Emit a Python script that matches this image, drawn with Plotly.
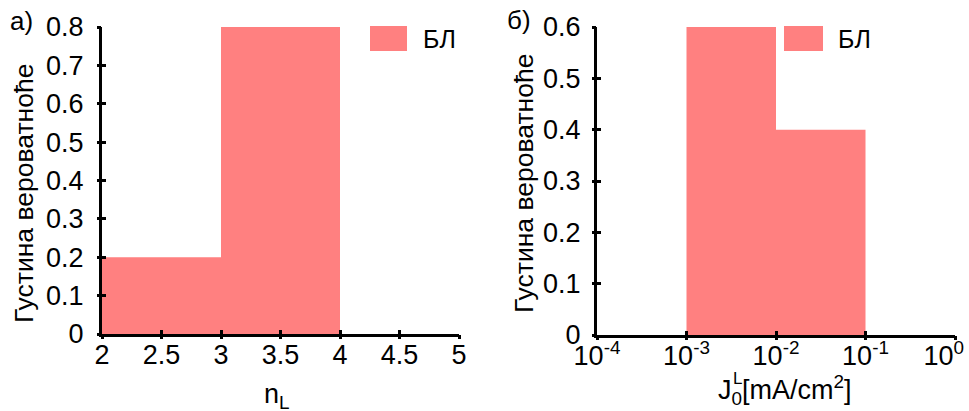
import plotly.graph_objects as go

# Data
n_edges = [2, 3, 4]
n_density = [0.2, 0.8]
j_edges = [1e-3, 1e-2, 1e-1]
j_density = [0.6, 0.4]
legend_label = "БЛ"
y_title = "Густина вероватноће"
left_ticks = [2, 2.5, 3, 3.5, 4, 4.5, 5]
left_yticks = [0, 0.1, 0.2, 0.3, 0.4, 0.5, 0.6, 0.7, 0.8]
right_yticks = [0, 0.1, 0.2, 0.3, 0.4, 0.5, 0.6]
right_tickvals = [1e-4, 1e-3, 1e-2, 1e-1, 1e0]
right_ticktext = ["10<sup>-4</sup>", "10<sup>-3</sup>", "10<sup>-2</sup>", "10<sup>-1</sup>",
                  "10<sup>0</sup>&nbsp;&nbsp;&nbsp;"]

COLOR = "#FF8080"
FONT = "Liberation Sans, Arial, sans-serif"
W, H = 969, 411


def hist_polygon(edges, dens):
    xs, ys = [], []
    for i, d in enumerate(dens):
        xs += [edges[i], edges[i], edges[i + 1], edges[i + 1], edges[i], None]
        ys += [0, d, d, 0, 0, None]
    return xs, ys


fig = go.Figure()
xs, ys = hist_polygon(n_edges, n_density)
fig.add_trace(go.Scatter(x=xs, y=ys, fill="toself", fillcolor=COLOR, mode="lines",
                         line=dict(width=0, color=COLOR), name=legend_label,
                         showlegend=False, hoverinfo="skip", xaxis="x", yaxis="y"))
xs, ys = hist_polygon(j_edges, j_density)
fig.add_trace(go.Scatter(x=xs, y=ys, fill="toself", fillcolor=COLOR, mode="lines",
                         line=dict(width=0, color=COLOR), name=legend_label,
                         showlegend=False, hoverinfo="skip", xaxis="x2", yaxis="y2"))
# invisible carriers so the outward-tick overlay axes are drawn
fig.add_trace(go.Scatter(x=[None], y=[None], xaxis="x3", yaxis="y3", showlegend=False,
                         hoverinfo="skip"))
fig.add_trace(go.Scatter(x=[None], y=[None], xaxis="x4", yaxis="y4", showlegend=False,
                         hoverinfo="skip"))

TICK = 27
TITLE = 26.5
common = dict(showgrid=False, zeroline=False, automargin=False, fixedrange=True)
main = dict(showline=True, linecolor="black", linewidth=3, ticks="inside",
            ticklen=4, tickwidth=3, tickcolor="black", ticklabeloverflow="allow",
            tickfont=dict(size=TICK, color="black", family=FONT), **common)
outer = dict(showline=False, ticks="outside", ticklen=4, tickwidth=3,
             tickcolor="black", showticklabels=False, **common)

LX = [102 / W, 459 / W]
RX = [597 / W, 955 / W]
LY = [1 - 334 / H, 1 - 27 / H]
RY = [1 - 335 / H, 1 - 27 / H]

fig.update_layout(
    width=W, height=H, margin=dict(l=0, r=0, t=0, b=0, autoexpand=False),
    plot_bgcolor="rgba(0,0,0,0)", paper_bgcolor="white",
    font=dict(family=FONT, color="black"),
    showlegend=False,
    xaxis=dict(domain=LX, range=[2, 5], tickvals=left_ticks, anchor="y",
               ticklabelstandoff=-5, **main),
    yaxis=dict(domain=LY, range=[0, 0.8], tickvals=left_yticks, tickformat="~g",
               anchor="x", ticklabelstandoff=10, **main),
    xaxis2=dict(domain=RX, type="log", range=[-4, 0], tickvals=right_tickvals,
                ticktext=right_ticktext, anchor="y2", ticklabelstandoff=-5, **main),
    yaxis2=dict(domain=RY, range=[0, 0.6], tickvals=right_yticks, tickformat="~g",
                anchor="x2", ticklabelstandoff=8, **main),
    # outward halves of the crossing tick marks
    xaxis3=dict(overlaying="x", anchor="y3", side="bottom", range=[2, 5],
                tickvals=left_ticks, **outer),
    yaxis3=dict(overlaying="y", anchor="x3", side="left", range=[0, 0.8],
                tickvals=left_yticks, **outer),
    xaxis4=dict(overlaying="x2", anchor="y4", side="bottom", type="log", range=[-4, 0],
                tickvals=right_tickvals, **outer),
    yaxis4=dict(overlaying="y2", anchor="x4", side="left", range=[0, 0.6],
                tickvals=right_yticks, **outer),
)

# Axis titles
fig.add_annotation(xref="paper", yref="paper", x=24 / W, y=1 - 194 / H,
                   xanchor="center", yanchor="middle", showarrow=False, textangle=-90,
                   text=y_title, font=dict(size=TITLE, color="black"))
fig.add_annotation(xref="paper", yref="paper", x=524 / W, y=1 - 184 / H,
                   xanchor="center", yanchor="middle", showarrow=False, textangle=-90,
                   text=y_title, font=dict(size=TITLE, color="black"))
fig.add_annotation(xref="paper", yref="paper", x=262 / W, y=1 - 396 / H,
                   xanchor="left", yanchor="middle", showarrow=False,
                   text="n<sub>L</sub>", font=dict(size=TICK, color="black"))
fig.add_annotation(xref="paper", yref="paper", x=716 / W, y=1 - 390 / H,
                   xanchor="left", yanchor="middle", showarrow=False,
                   text="J<sub>0</sub>[mA/cm<sup>2</sup>]",
                   font=dict(size=TICK, color="black"))
fig.add_annotation(xref="paper", yref="paper", x=737 / W, y=1 - 378 / H,
                   xanchor="center", yanchor="middle", showarrow=False,
                   text="L", font=dict(size=17, color="black"))

# Legend-like boxes
for (x0, x1, tx) in [(370, 407, 421), (784, 823, 836)]:
    fig.add_shape(type="rect", xref="paper", yref="paper",
                  x0=x0 / W, x1=x1 / W, y0=1 - 51 / H, y1=1 - 26 / H,
                  fillcolor=COLOR, line=dict(width=0))
    fig.add_annotation(xref="paper", yref="paper", x=tx / W, y=1 - 39 / H,
                       xanchor="left", yanchor="middle", showarrow=False,
                       text=legend_label, font=dict(size=25, color="black"))

# Panel labels
fig.add_annotation(xref="paper", yref="paper", x=8 / W, y=1 - 21 / H,
                   xanchor="left", yanchor="middle", showarrow=False,
                   text="а)", font=dict(size=26, color="black"))
fig.add_annotation(xref="paper", yref="paper", x=505 / W, y=1 - 20 / H,
                   xanchor="left", yanchor="middle", showarrow=False,
                   text="б)", font=dict(size=26, color="black"))

fig.write_html("out.html", config={"displayModeBar": False},
               post_script="document.body.style.margin='0';document.body.style.overflow='hidden';")
